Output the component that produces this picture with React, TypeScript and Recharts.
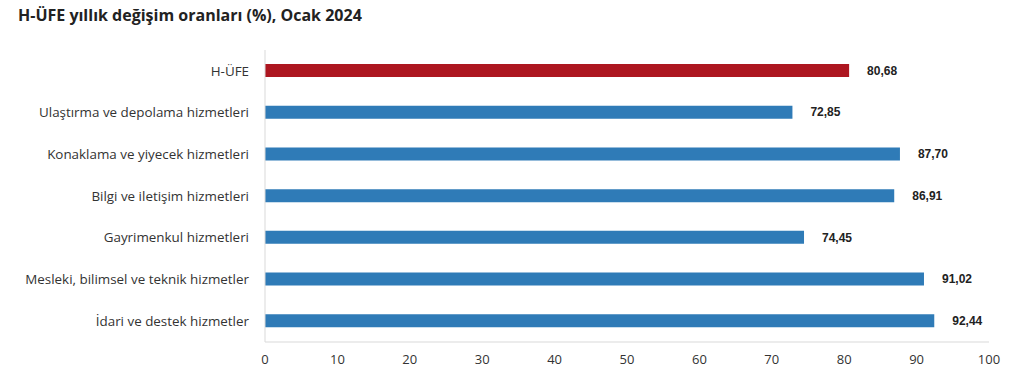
import React from "react";
import { BarChart, Bar, XAxis, YAxis, Cell, LabelList } from "recharts";

const categories = [
  "H-ÜFE",
  "Ulaştırma ve depolama hizmetleri",
  "Konaklama ve yiyecek hizmetleri",
  "Bilgi ve iletişim hizmetleri",
  "Gayrimenkul hizmetleri",
  "Mesleki, bilimsel ve teknik hizmetler",
  "İdari ve destek hizmetler",
];
const values = [80.68, 72.85, 87.7, 86.91, 74.45, 91.02, 92.44];
const xTicks = [0, 10, 20, 30, 40, 50, 60, 70, 80, 90, 100];
const title = "H-ÜFE yıllık değişim oranları (%), Ocak 2024";

const RED = "#AD1620";
const BLUE = "#2F7BB7";

const data = categories.map((name, i) => ({ name, value: values[i] }));

export default function App() {
  return (
    <div
      style={{
        position: "absolute",
        left: 0,
        top: 0,
        width: 1022,
        height: 392,
        background: "#fff",
      }}
    >
      <div
        style={{
          position: "absolute",
          left: 18,
          top: 4,
          fontFamily: "'Open Sans', sans-serif",
          fontWeight: 700,
          fontSize: 16,
          color: "#222",
          whiteSpace: "nowrap",
        }}
      >
        {title}
      </div>
      <BarChart
        width={1022}
        height={392}
        data={data}
        layout="vertical"
        margin={{ top: 50, right: 33, left: 0, bottom: 0 }}
      >
        <XAxis
          type="number"
          domain={[0, 100]}
          ticks={xTicks}
          interval={0}
          height={50}
          tickLine={false}
          tickMargin={7}
          axisLine={{ stroke: "#d9d9d9" }}
          tick={{ fill: "#333", fontSize: 13, fontFamily: "'Open Sans', sans-serif" }}
        />
        <YAxis
          type="category"
          dataKey="name"
          width={265}
          tickLine={false}
          tickMargin={10}
          axisLine={{ stroke: "#d9d9d9" }}
          tick={{ fill: "#333", fontSize: 13.4, fontFamily: "'Open Sans', sans-serif" }}
        />
        <Bar dataKey="value" barSize={13} isAnimationActive={false}>
          {data.map((d, i) => (
            <Cell key={d.name} fill={i === 0 ? RED : BLUE} />
          ))}
          <LabelList
            dataKey="value"
            position="right"
            offset={18}
            formatter={(v: any) => Number(v).toFixed(2).replace(".", ",")}
            style={{
              fill: "#222",
              fontSize: 12,
              fontWeight: 700,
              fontFamily: "'Liberation Sans', Arial, sans-serif",
            }}
          />
        </Bar>
      </BarChart>
    </div>
  );
}
